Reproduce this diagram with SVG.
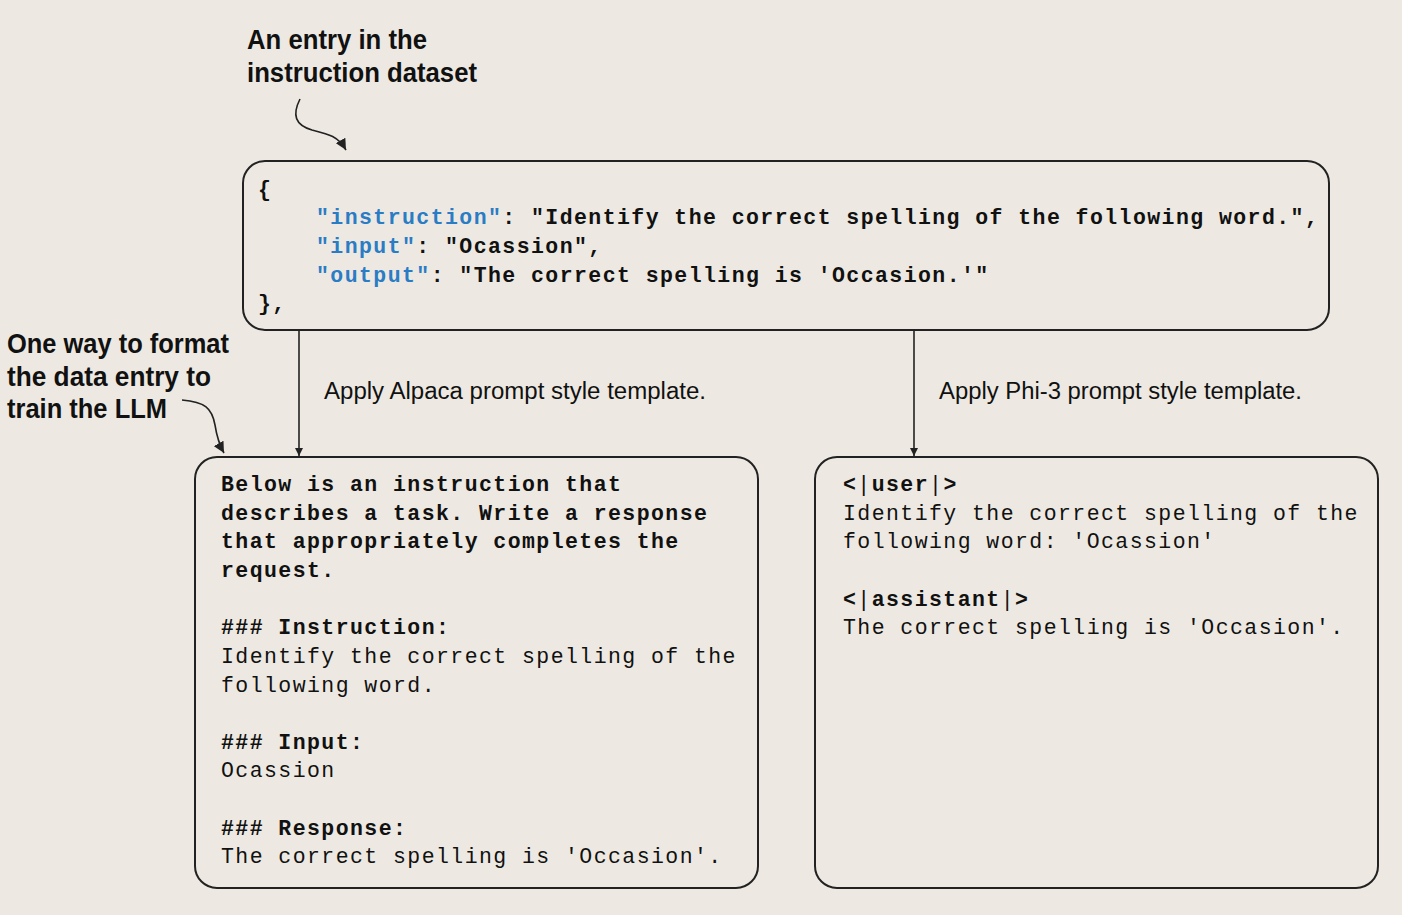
<svg xmlns="http://www.w3.org/2000/svg" width="1402" height="915" viewBox="0 0 1402 915">
<defs>
<style>
.bg{fill:#EDE9E2}
.box{fill:#EDE9E2;stroke:#222;stroke-width:2}
.mono{font-family:"Liberation Mono","Courier New",monospace;font-size:21.5px;letter-spacing:1.43px;fill:#111;white-space:pre}
.b{font-weight:bold}
.key{fill:#2A7CC4;font-weight:bold}
.thin{font-weight:normal}
.ann{font-family:"Liberation Sans",Arial,sans-serif;font-weight:bold;font-size:28px;fill:#111}
.lbl{font-family:"Liberation Sans",Arial,sans-serif;font-size:23.5px;fill:#111}
.con{fill:none;stroke:#222;stroke-width:1.6}
</style>
<marker id="ah" viewBox="0 0 10 10" refX="10" refY="5" markerWidth="8" markerHeight="8" markerUnits="userSpaceOnUse" orient="auto">
<path d="M0,0 L10,5 L0,10 z" fill="#222"/>
</marker>
<marker id="ah2" viewBox="0 0 10 10" refX="10" refY="5" markerWidth="11" markerHeight="11" markerUnits="userSpaceOnUse" orient="auto">
<path d="M0,0 L10,5 L0,10 z" fill="#222"/>
</marker>
</defs>
<rect class="bg" x="0" y="0" width="1402" height="915"/>

<g id="connectors">
<line class="con" x1="299" y1="331" x2="299" y2="456" marker-end="url(#ah)"/>
<line class="con" x1="914" y1="331" x2="914" y2="456" marker-end="url(#ah)"/>
<path class="con" d="M300,99 C292,115 295,125 312,130 C328,134 338,136 346,150" marker-end="url(#ah2)"/>
<path class="con" d="M182,400 C205,402 212,408 215,425 C217,438 219,444 224,453" marker-end="url(#ah2)"/>
<text class="lbl" x="324" y="399" textLength="382" lengthAdjust="spacingAndGlyphs">Apply Alpaca prompt style template.</text>
<text class="lbl" x="939" y="399" textLength="363" lengthAdjust="spacingAndGlyphs">Apply Phi-3 prompt style template.</text>
</g>

<g id="ann-entry">
<text class="ann" x="247" y="49" textLength="180" lengthAdjust="spacingAndGlyphs">An entry in the</text>
<text class="ann" x="247" y="82" textLength="230" lengthAdjust="spacingAndGlyphs">instruction dataset</text>
</g>

<g id="ann-format">
<text class="ann" x="7" y="353" textLength="222" lengthAdjust="spacingAndGlyphs">One way to format</text>
<text class="ann" x="7" y="386" textLength="204" lengthAdjust="spacingAndGlyphs">the data entry to</text>
<text class="ann" x="7" y="418" textLength="160" lengthAdjust="spacingAndGlyphs">train the LLM</text>
</g>

<g id="entry">
<rect class="box" x="243" y="161" width="1086" height="169" rx="22"/>
<text class="mono b" x="258" y="196">{</text>
<text class="mono b" x="316" y="224"><tspan class="key">"instruction"</tspan>: "Identify the correct spelling of the following word.",</text>
<text class="mono b" x="316" y="253"><tspan class="key">"input"</tspan>: "Ocassion",</text>
<text class="mono b" x="316" y="282"><tspan class="key">"output"</tspan>: "The correct spelling is 'Occasion.'"</text>
<text class="mono b" x="258" y="310">},</text>
</g>

<g id="alpaca">
<rect class="box" x="195" y="457" width="563" height="431" rx="22"/>
<text class="mono b" x="221" y="491">Below is an instruction that</text>
<text class="mono b" x="221" y="520">describes a task. Write a response</text>
<text class="mono b" x="221" y="548">that appropriately completes the</text>
<text class="mono b" x="221" y="577">request.</text>
<text class="mono b" x="221" y="634">### Instruction:</text>
<text class="mono" x="221" y="663">Identify the correct spelling of the</text>
<text class="mono" x="221" y="692">following word.</text>
<text class="mono b" x="221" y="749">### Input:</text>
<text class="mono" x="221" y="777">Ocassion</text>
<text class="mono b" x="221" y="835">### Response:</text>
<text class="mono" x="221" y="863">The correct spelling is 'Occasion'.</text>
</g>

<g id="phi3">
<rect class="box" x="815" y="457" width="563" height="431" rx="22"/>
<text class="mono b" x="843" y="491">&lt;<tspan class="thin">|</tspan>user<tspan class="thin">|</tspan>&gt;</text>
<text class="mono" x="843" y="520">Identify the correct spelling of the</text>
<text class="mono" x="843" y="548">following word: 'Ocassion'</text>
<text class="mono b" x="843" y="606">&lt;<tspan class="thin">|</tspan>assistant<tspan class="thin">|</tspan>&gt;</text>
<text class="mono" x="843" y="634">The correct spelling is 'Occasion'.</text>
</g>
</svg>
